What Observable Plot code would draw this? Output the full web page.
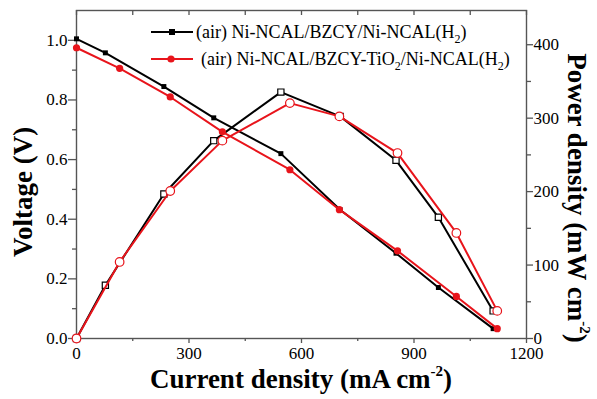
<!DOCTYPE html>
<html><head><meta charset="utf-8">
<script src="https://cdn.jsdelivr.net/npm/d3@7"></script>
<script src="https://cdn.jsdelivr.net/npm/@observablehq/plot@0.6"></script>
<style>
body{margin:0;background:#fff;}
#wrap{position:relative;width:597px;height:399px;}
</style></head><body><div id="wrap"></div>
<script>
// Series 1: (air) Ni-NCAL/BZCY/Ni-NCAL(H2)
const blackI = [0, 77, 233, 366, 545, 703, 852, 965, 1111];
const blackV = [1.005, 0.958, 0.845, 0.740, 0.620, 0.432, 0.286, 0.171, 0.033];
const blackP = [0, 72.5, 196.7, 269.4, 335.5, 302.4, 242.6, 165, 37.6];
// Series 2: (air) Ni-NCAL/BZCY-TiO2/Ni-NCAL(H2)
const redI = [0, 115, 250, 389, 569, 701, 856, 1013, 1122];
const redV = [0.975, 0.906, 0.810, 0.693, 0.566, 0.432, 0.294, 0.141, 0.033];
const redP = [0, 104.2, 200.8, 269.4, 320.5, 302.4, 252.5, 143.7, 37.6];
// Axis ticks
const vTicks = [0.0, 0.2, 0.4, 0.6, 0.8, 1.0];
const vMinor = [0.1, 0.3, 0.5, 0.7, 0.9];
const iTicks = [0, 300, 600, 900, 1200];
const iMinor = [150, 450, 750, 1050];
const pTicks = [0, 100, 200, 300, 400];
const pMinor = [50, 150, 250, 350];
const K = 406; // power units per volt on the shared vertical scale

const RED = "#e8141b";
const GRAY = "#555";
const FONT = "Liberation Serif, Times New Roman, serif";

const black = blackI.map((I, i) => ({I, V: blackV[i], P: blackP[i]}));
const red = redI.map((I, i) => ({I, V: redV[i], P: redP[i]}));

const W = 597, H = 399, mL = 76, mR = 71, mT = 10, mB = 61;
const innerH = H - mT - mB;

const axText = {fontSize: 17, fill: "black", stroke: GRAY, strokeWidth: 1.3};

const chart = Plot.plot({
  width: W, height: H,
  marginLeft: mL, marginRight: mR, marginTop: mT, marginBottom: mB,
  style: {fontFamily: FONT, background: "white", color: "black"},
  x: {domain: [0, 1200]},
  y: {domain: [0, 1.1]},
  marks: [
    Plot.axisY({ticks: vTicks, tickSize: 8, tickPadding: 1, tickFormat: d3.format(".1f"), label: null, ...axText}),
    Plot.axisY({ticks: vMinor, tickSize: 4, tickFormat: () => "", label: null, stroke: GRAY, strokeWidth: 1.3}),
    Plot.axisX({ticks: iTicks, tickSize: 5, tickPadding: 3, tickFormat: d => String(d), label: null, ...axText}),
    Plot.axisX({ticks: iMinor, tickSize: 3, tickFormat: () => "", label: null, stroke: GRAY, strokeWidth: 1.3}),
    Plot.axisY({anchor: "right", ticks: pTicks.map(p => p / K), tickSize: 6, tickPadding: 1,
      tickFormat: d => String(Math.round(d * K)), label: null, ...axText}),
    Plot.axisY({anchor: "right", ticks: pMinor.map(p => p / K), tickSize: 4, tickFormat: () => "", label: null, stroke: GRAY, strokeWidth: 1.3}),
    Plot.tickX(iTicks.concat(iMinor), {x: d => d, insetBottom: innerH - 5, stroke: GRAY, strokeWidth: 1.3}),
    Plot.frame({stroke: GRAY, strokeWidth: 1.4}),
    // series 1
    Plot.line(black, {x: "I", y: "V", stroke: "black", strokeWidth: 2}),
    Plot.line(black, {x: "I", y: d => d.P / K, stroke: "black", strokeWidth: 2}),
    Plot.dot(black, {x: "I", y: "V", symbol: "square", r: 2.8, fill: "black"}),
    Plot.dot(black, {x: "I", y: d => d.P / K, symbol: "square", r: 3.5, fill: "white", stroke: "black", strokeWidth: 1.2}),
    // series 2
    Plot.line(red, {x: "I", y: "V", stroke: RED, strokeWidth: 2}),
    Plot.line(red, {x: "I", y: d => d.P / K, stroke: RED, strokeWidth: 2}),
    Plot.dot(red, {x: "I", y: "V", symbol: "circle", r: 3.6, fill: RED}),
    Plot.dot(red, {x: "I", y: d => d.P / K, symbol: "circle", r: 4.3, fill: "white", stroke: RED, strokeWidth: 1.2})
  ]
});

document.getElementById("wrap").appendChild(chart);
const svg = d3.select(chart);

// Axis titles
function title(x, y, rot, parts) {
  const t = svg.append("text")
    .attr("transform", `translate(${x},${y}) rotate(${rot})`)
    .attr("text-anchor", "middle")
    .attr("font-family", FONT).attr("font-weight", "bold").attr("font-size", 27).attr("fill", "black");
  parts.forEach(([s, sup]) => {
    const ts = t.append("tspan").text(s);
    if (sup) ts.attr("font-size", 15).attr("dy", -12);
    else if (sup === false) ts.attr("dy", 12);
  });
}
title(301, 388, 0, [["Current density (mA cm"], ["-2", true], [")", false]]);
title(32, 192, -90, [["Voltage (V)"]]);
title(568, 198, 90, [["Power density (mW cm"], ["-2", true], [")", false]]);

// Legend
const leg = svg.append("g").attr("font-family", FONT).attr("font-size", 18).attr("fill", "black").attr("text-anchor", "start");
function legendItem(y, color, symbol, parts, tx) {
  leg.append("line").attr("x1", 151).attr("x2", 193).attr("y1", y).attr("y2", y)
    .attr("stroke", color).attr("stroke-width", 2);
  if (symbol === "square") leg.append("rect").attr("x", 169).attr("y", y - 3).attr("width", 6).attr("height", 6).attr("fill", color);
  else leg.append("circle").attr("cx", 171).attr("cy", y).attr("r", 3.6).attr("fill", color);
  const t = leg.append("text").attr("x", tx).attr("y", y + 6).attr("text-anchor", "start");
  parts.forEach(([s, sub]) => {
    const ts = t.append("tspan").text(s);
    if (sub) ts.attr("font-size", 12).attr("dy", 5);
    else if (sub === false) ts.attr("dy", -5);
  });
}
legendItem(32, "black", "square", [["(air) Ni-NCAL/BZCY/Ni-NCAL(H"], ["2", true], [")", false]], 196);
legendItem(59, RED, "circle", [["(air) Ni-NCAL/BZCY-TiO"], ["2", true], ["/Ni-NCAL(H", false], ["2", true], [")", false]], 201);
</script></body></html>
